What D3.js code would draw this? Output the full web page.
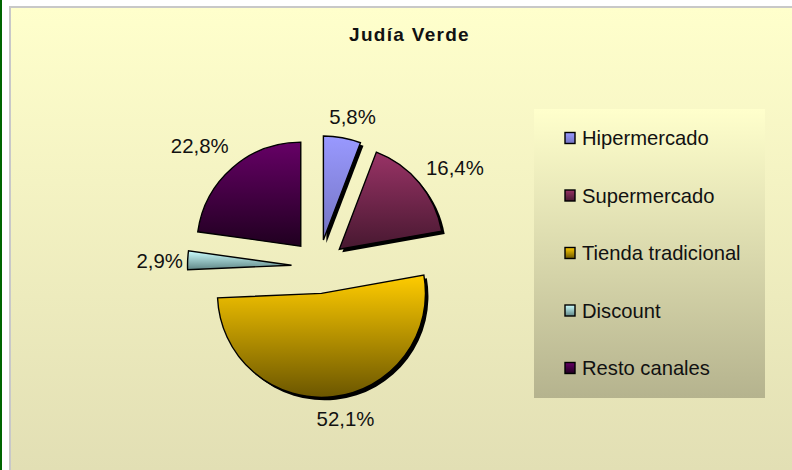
<!DOCTYPE html>
<html>
<head>
<meta charset="utf-8">
<script src="https://cdn.jsdelivr.net/npm/d3@7"></script>
<style>
  html, body { margin: 0; padding: 0; background: #fff; overflow: hidden; }
  svg { display: block; }
  text { font-family: "Liberation Sans", Arial, sans-serif; fill: #111; }
</style>
</head>
<body>
<svg id="drawing_region"></svg>
<script>
const title = 'Judía Verde';
const categories = ['Hipermercado', 'Supermercado', 'Tienda tradicional', 'Discount', 'Resto canales'];
const shares = [5.8, 16.4, 52.1, 2.9, 22.8];
const topColors = ['#9999ff', '#993366', '#ffcc00', '#ccffff', '#660066'];
const bottomColors = ['#7474c2', '#471830', '#6b5600', '#5f8585', '#200020'];

const width = 792, height = 470;
const cx = 318.5, cy = 266.5, radius = 104, explode = 27;
// label shift from the arc position, in pixels
const labelNudge = [[6, 3], [17, 0.5], [10, -2], [-4, 2], [-17, -3.5]];

const svg = d3.select('#drawing_region').attr('width', width).attr('height', height);
const defs = svg.append('defs');

function addGradient(id, top, bottom) {
  const g = defs.append('linearGradient').attr('id', id)
    .attr('x1', 0).attr('y1', 0).attr('x2', 0).attr('y2', 1);
  g.append('stop').attr('offset', '0%').attr('stop-color', top);
  g.append('stop').attr('offset', '100%').attr('stop-color', bottom);
}
addGradient('panel_grad', '#ffffcc', '#e2dfb4');
addGradient('legend_grad', '#ffffcc', '#b5b38e');
categories.forEach((c, i) => addGradient('slice_grad' + i, topColors[i], bottomColors[i]));

// page frame
svg.append('rect').attr('width', 2).attr('height', height).attr('fill', '#006600');
svg.append('rect').attr('x', 9).attr('y', 6).attr('width', width - 9).attr('height', height - 6).attr('fill', '#c8c8c8');
svg.append('rect').attr('x', 11).attr('y', 8).attr('width', width - 11).attr('height', height - 8).attr('fill', 'url(#panel_grad)');

svg.append('text').attr('x', 409.5).attr('y', 41).attr('text-anchor', 'middle')
  .attr('font-size', 19).attr('font-weight', 'bold').attr('letter-spacing', 1.3).text(title);

// pie
const pie = d3.pie().sort(null).value(d => d);
const arc = d3.arc().innerRadius(0).outerRadius(radius);
const labelArc = d3.arc().innerRadius(radius + 24).outerRadius(radius + 24);
const slices = pie(shares);

function sliceOrigin(d) {
  const mid = (d.startAngle + d.endAngle) / 2;
  return [cx + explode * Math.sin(mid), cy - explode * Math.cos(mid)];
}

const chart = svg.append('g');
// only the right hand slices throw a visible shadow
chart.selectAll('.shadow').data(slices.filter(d => (d.startAngle + d.endAngle) / 2 < Math.PI))
  .join('path').attr('class', 'shadow')
  .attr('transform', d => {
    const o = sliceOrigin(d);
    return `translate(${o[0] + 3}, ${o[1] + 3})`;
  })
  .attr('d', arc).attr('fill', '#000');

chart.selectAll('.slice').data(slices).join('path').attr('class', 'slice')
  .attr('transform', d => `translate(${sliceOrigin(d)})`)
  .attr('d', arc)
  .attr('fill', (d, i) => `url(#slice_grad${i})`)
  .attr('stroke', '#000').attr('stroke-width', 1.4).attr('stroke-linejoin', 'miter');

chart.selectAll('.label').data(slices).join('text').attr('class', 'label')
  .attr('transform', (d, i) => {
    const o = sliceOrigin(d), c = labelArc.centroid(d);
    return `translate(${o[0] + c[0] + labelNudge[i][0]}, ${o[1] + c[1] + labelNudge[i][1]})`;
  })
  .attr('text-anchor', 'middle').attr('dominant-baseline', 'central')
  .attr('font-size', 20.4)
  .text(d => d.value.toFixed(1).replace('.', ',') + '%');

// legend
svg.append('rect').attr('x', 534).attr('y', 109).attr('width', 231).attr('height', 289).attr('fill', 'url(#legend_grad)');
const legendY = d3.scalePoint().domain(categories).range([138, 368]);
const rows = svg.append('g').selectAll('g').data(categories).join('g')
  .attr('transform', d => `translate(565, ${legendY(d)})`);
rows.append('rect').attr('x', 0).attr('y', -5.5).attr('width', 10).attr('height', 11)
  .attr('fill', (d, i) => `url(#slice_grad${i})`).attr('stroke', '#000').attr('stroke-width', 1.4);
rows.append('text').attr('x', 17).attr('y', 0).attr('dominant-baseline', 'central')
  .attr('font-size', 20.2).text(d => d);
</script>
</body>
</html>
